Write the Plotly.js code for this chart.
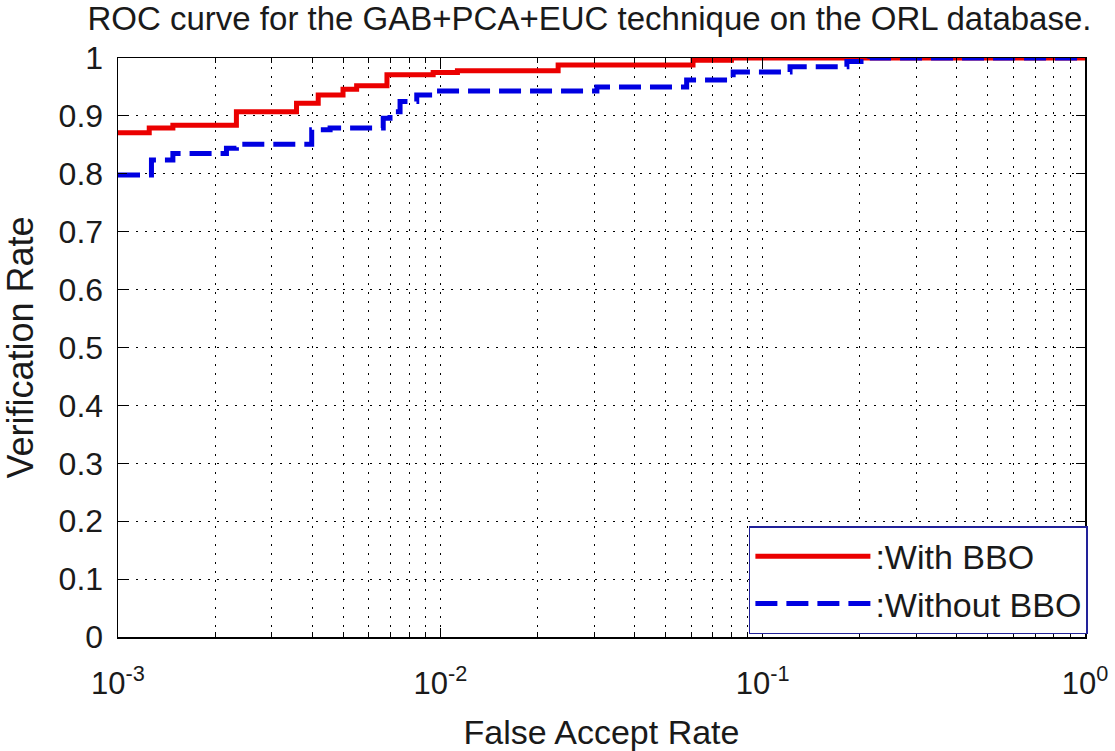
<!DOCTYPE html>
<html><head><meta charset="utf-8">
<script src="https://cdn.plot.ly/plotly-3.0.1.min.js"></script>
<style>html,body{margin:0;padding:0;background:#fff}</style>
</head><body><div id="chart" style="width:1115px;height:751px"></div>
<script>
// Data
const withBBO_x = [0.001, 0.00125, 0.00148, 0.00233, 0.00358, 0.00418, 0.00499, 0.0055, 0.00683, 0.0095, 0.0113, 0.0232, 0.0608, 0.08, 1.0];
const withBBO_y = [0.871, 0.879, 0.884, 0.907, 0.922, 0.936, 0.946, 0.952, 0.971, 0.975, 0.978, 0.988, 0.996, 1.0, 1.0];
const withoutBBO_x = [0.001, 0.00104, 0.00127, 0.00148, 0.00217, 0.00233, 0.00399, 0.00455, 0.00665, 0.00698, 0.0075, 0.00845, 0.00964, 0.0306, 0.0581, 0.081, 0.1216, 0.1825, 0.215, 1.0];
const withoutBBO_y = [0.798, 0.798, 0.824, 0.835, 0.844, 0.851, 0.876, 0.879, 0.896, 0.907, 0.925, 0.936, 0.943, 0.950, 0.962, 0.976, 0.985, 0.994, 1.0, 1.0];
const seriesNames = [':With BBO', ':Without BBO'];
const xTickVals = [0.001, 0.01, 0.1, 1];
const xTickText = ['10<sup>-3</sup>', '10<sup>-2</sup>', '10<sup>-1</sup>', '10<sup>0</sup>'];
const xMinorVals = [0.002,0.003,0.004,0.005,0.006,0.007,0.008,0.009,0.02,0.03,0.04,0.05,0.06,0.07,0.08,0.09,0.2,0.3,0.4,0.5,0.6,0.7,0.8,0.9];
const yTickVals = [0,0.1,0.2,0.3,0.4,0.5,0.6,0.7,0.8,0.9,1];
const yTickText = ['0','0.1','0.2','0.3','0.4','0.5','0.6','0.7','0.8','0.9','1'];

const FONT = 'Liberation Sans, Arial, sans-serif';
const traces = [
  {x: withBBO_x, y: withBBO_y, name: seriesNames[0], type: 'scatter', mode: 'lines',
   line: {color: 'rgb(235,0,0)', width: 5, shape: 'hv'}},
  {x: withoutBBO_x, y: withoutBBO_y, name: seriesNames[1], type: 'scatter', mode: 'lines',
   line: {color: 'rgb(0,0,225)', width: 5, shape: 'hv', dash: '22px,9px'}}
];
const layout = {
  width: 1115, height: 751,
  margin: {l: 118, r: 30, t: 58, b: 114},
  paper_bgcolor: '#fff', plot_bgcolor: '#fff',
  font: {family: FONT, size: 30, color: '#1a1a1a'},
  title: {text: 'ROC curve for the GAB+PCA+EUC technique on the ORL database.', xref: 'container', x: 0.5287, xanchor: 'center', yref: 'container', y: 0.976, yanchor: 'middle', font: {size: 33, family: FONT, color: '#1a1a1a'}},
  xaxis: {type: 'log', range: [-3, 0], tickmode: 'array', tickvals: xTickVals, ticktext: xTickText,
    showline: true, linecolor: '#000', linewidth: 1.5, mirror: 'ticks', ticks: 'inside', ticklen: 9, tickcolor: '#000',
    showgrid: true, gridcolor: '#000', gridwidth: 1, griddash: '2px,7px', zeroline: false,
    tickfont: {size: 31}, ticklabelstandoff: 18,
    minor: {tickmode: 'array', tickvals: xMinorVals, ticks: 'inside', ticklen: 5, tickcolor: '#000', showgrid: true, gridcolor: '#000', gridwidth: 1, griddash: '2px,7px'},
    title: {text: 'False Accept Rate', font: {size: 34}, standoff: 22}},
  yaxis: {range: [0, 1], tickmode: 'array', tickvals: yTickVals, ticktext: yTickText,
    showline: true, linecolor: '#000', linewidth: 1.5, mirror: 'ticks', ticks: 'inside', ticklen: 9, tickcolor: '#000',
    showgrid: true, gridcolor: '#000', gridwidth: 1, griddash: '2px,7px', zeroline: false,
    tickfont: {size: 32}, ticklabelstandoff: 7,
    title: {text: 'Verification Rate', font: {size: 36}, standoff: 18}},
  showlegend: true,
  legend: {x: 1.003, xanchor: 'right', y: 0.005, yanchor: 'bottom', bgcolor: '#fff', bordercolor: '#22229a', borderwidth: 1.5,
    font: {size: 34, family: FONT, color: '#1a1a1a'}, itemwidth: 115, tracegroupgap: 0}
};
Plotly.newPlot('chart', traces, layout, {displayModeBar: false, staticPlot: true});
</script></body></html>
